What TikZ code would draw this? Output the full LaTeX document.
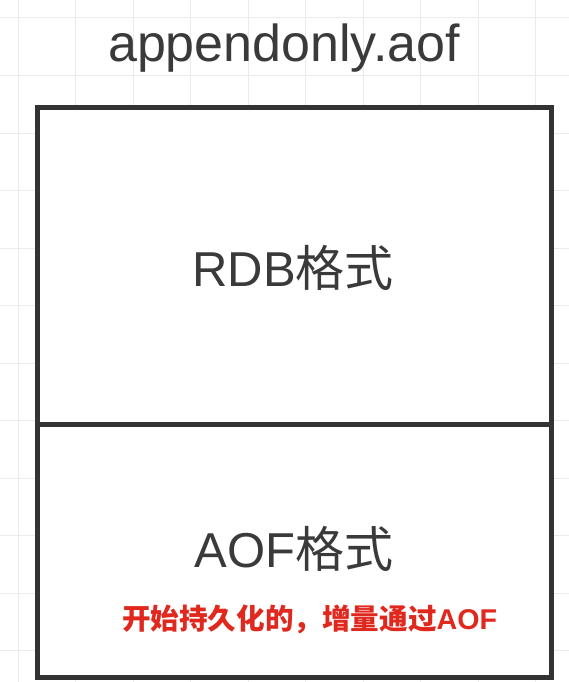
\documentclass[tikz,border=0pt]{standalone}
\usepackage{fontspec}
\setmainfont{Liberation Sans}
\newfontfamily\cjk{Noto Sans CJK SC}
\newfontfamily\cjkbold{Noto Sans CJK SC Bold}
\definecolor{gridc}{HTML}{EBEBEB}
\definecolor{boxc}{HTML}{333333}
\definecolor{txtc}{HTML}{3A3A3A}
\definecolor{redc}{HTML}{E0281E}
\tikzset{
  gridline/.style={draw=gridc, line width=1pt},
  boxline/.style={draw=boxc, line width=5pt},
  bigtext/.style={text=txtc, font=\fontsize{49}{58}\selectfont, inner sep=0pt},
  redtext/.style={text=redc, font=\bfseries\fontsize{28.6}{34}\selectfont, inner sep=0pt}
}
\begin{document}
\begin{tikzpicture}[x=1pt,y=-1pt]
\useasboundingbox (0,0) rectangle (569,682);
\fill[white] (0,0) rectangle (569,682);
% background grid
\foreach \k in {0,...,9} {
  \draw[gridline] ({18+57.5*\k},0) -- ({18+57.5*\k},682);
}
\foreach \k in {0,...,11} {
  \draw[gridline] (0,{18+57.5*\k}) -- (569,{18+57.5*\k});
}
% box
\fill[white] (37,108) rectangle (551,677);
\coordinate (tl) at (37,108);
\coordinate (tr) at (551,108);
\coordinate (ml) at (37,424);
\coordinate (mr) at (551,424);
\coordinate (bl) at (37,677);
\coordinate (br) at (551,677);
\draw[boxline, line join=miter] (tl) -- (tr) -- (br) -- (bl) -- cycle;
\draw[boxline] (ml) -- (mr);
% texts
\node[text=txtc, font=\fontsize{52}{62}\selectfont, inner sep=0pt] (title) at (284,48) {appendonly.aof};
\node[bigtext] (rdb) at (293,268) {RDB{\cjk 格式}};
\node[bigtext] (aof) at (294,549) {AOF{\cjk 格式}};
\node[redtext] (note) at (309.5,619) {{\cjkbold 开始持久化的，增量通过}AOF};
\end{tikzpicture}
\end{document}
